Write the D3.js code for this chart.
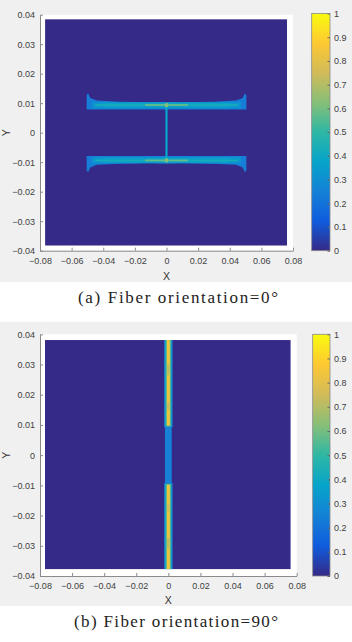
<!DOCTYPE html>
<html>
<head>
<meta charset="utf-8">
<script src="https://cdn.jsdelivr.net/npm/d3@7"></script>
<style>
body{margin:0;background:#fff}
text{font-family:"Liberation Sans",Arial,sans-serif}
</style>
</head>
<body>
<svg id="chart" width="352" height="642"></svg>
<script>
// parula colormap
const parulaDomain = [0, .125, .25, .375, .5, .625, .75, .875, 1]
const parulaColors = ["#352a87", "#0f5cdd", "#1481d6", "#06a4ca", "#2eb7a4", "#87bf77", "#d1bb59", "#fec832", "#f9fb0e"]

const xTicks = [-0.08, -0.06, -0.04, -0.02, 0, 0.02, 0.04, 0.06, 0.08]
const yTicks = [-0.04, -0.03, -0.02, -0.01, 0, 0.01, 0.02, 0.03, 0.04]
const cbTicks = [0, 0.1, 0.2, 0.3, 0.4, 0.5, 0.6, 0.7, 0.8, 0.9, 1]
const captions = ["(a)  Fiber orientation=0°", "(b)  Fiber orientation=90°"]

// field extents (x, y) of the pcolor region
const fieldA = [[-0.0768, 0.0763], [-0.0383, 0.0385]]
const fieldB = [[-0.0769, 0.0763], [-0.0378, 0.0381]]

// (a) 0 deg : flange outlines (polygons) and bands
const flangeTopA = [[-0.0505,0.0079],[0.0505,0.0079],[0.0505,0.0127],[0.0496,0.0134],[0.0482,0.0118],[0.044,0.0109],[0.03,0.0105],[0.01,0.0103],[0,0.0104],[-0.01,0.0103],[-0.03,0.0105],[-0.044,0.0109],[-0.0482,0.0118],[-0.0496,0.0134],[-0.0505,0.0127]]
const flangeBotA = [[-0.0505,-0.0079],[0.0505,-0.0079],[0.0505,-0.0127],[0.0496,-0.0134],[0.0482,-0.0118],[0.044,-0.0109],[0.03,-0.0105],[0.01,-0.0103],[0,-0.0104],[-0.01,-0.0103],[-0.03,-0.0105],[-0.044,-0.0109],[-0.0482,-0.0118],[-0.0496,-0.0134],[-0.0505,-0.0127]]
const polysA = [
	{v: 0.24, pts: flangeTopA},
	{v: 0.24, pts: flangeBotA}
]
const cellsA = [
	{x0:-0.047, x1:0.047, y0:0.0082, y1:0.0104, v:0.32},
	{x0:-0.047, x1:0.047, y0:-0.0104, y1:-0.0082, v:0.32},
	{x0:-0.040, x1:0.040, y0:0.0086, y1:0.0101, v:0.36},
	{x0:-0.040, x1:0.040, y0:-0.0101, y1:-0.0086, v:0.36},
	{x0:-0.045, x1:0.045, y0:0.0091, y1:0.0097, v:0.43},
	{x0:-0.045, x1:0.045, y0:-0.0097, y1:-0.0091, v:0.43},
	{x0:-0.0135, x1:0.0135, y0:0.0091, y1:0.0097, v:0.58},
	{x0:-0.0135, x1:0.0135, y0:-0.0097, y1:-0.0091, v:0.58},
	{x0:-0.0007, x1:0.0007, y0:-0.0088, y1:0.0088, v:0.38},
	{x0:-0.0010, x1:0.0010, y0:0.0087, y1:0.0100, v:0.62},
	{x0:-0.0010, x1:0.0010, y0:-0.0100, y1:-0.0087, v:0.62}
]

// (b) 90 deg : vertical strip along x = 0
const polysB = []
const cellsB = [
	{x0:-0.0026, x1:0.0026, y0:0.0092, y1:0.0381, v:0.3},
	{x0:-0.0026, x1:0.0026, y0:-0.0378, y1:-0.0092, v:0.3},
	{x0:-0.0021, x1:0.0021, y0:-0.0100, y1:0.0100, v:0.25},
	{x0:-0.0017, x1:0.0017, y0:0.0095, y1:0.0381, v:0.55},
	{x0:-0.0017, x1:0.0017, y0:-0.0378, y1:-0.0095, v:0.55},
	{x0:-0.0009, x1:0.0009, y0:0.0098, y1:0.0381, v:0.84},
	{x0:-0.0009, x1:0.0009, y0:-0.0378, y1:-0.0098, v:0.84},
	{x0:-0.0009, x1:0.0009, y0:0.0265, y1:0.0300, v:0.72},
	{x0:-0.0009, x1:0.0009, y0:0.0150, y1:0.0175, v:0.74},
	{x0:-0.0009, x1:0.0009, y0:-0.0310, y1:-0.0275, v:0.72},
	{x0:-0.0009, x1:0.0009, y0:-0.0185, y1:-0.0160, v:0.75}
]

var color = d3.scaleLinear().domain(parulaDomain).range(parulaColors).clamp(true)
var svg = d3.select("#chart")

var defs = svg.append("defs")
var grad = defs.append("linearGradient")
	.attr("id", "parula")
	.attr("x1", 0).attr("y1", 1).attr("x2", 0).attr("y2", 0)
grad.selectAll("stop")
	.data(parulaDomain)
	.enter().append("stop")
	.attr("offset", function(d){ return d })
	.attr("stop-color", function(d, i){ return parulaColors[i] })
defs.append("filter").attr("id", "soft")
	.append("feGaussianBlur").attr("stdDeviation", 0.7)

var panels = [
	{name:"a", bgTop:0, bgBottom:282, left:40, right:293, top:14.7, bottom:250.7,
	 cbLeft:311.7, cbRight:330, cbTop:13.5, cbBottom:250.7, xLabelY:280, captionY:303,
	 captionX:78, captionW:200, field:fieldA, polys:polysA, cells:cellsA, caption:captions[0]},
	{name:"b", bgTop:321.7, bgBottom:606, left:40, right:296.7, top:334.3, bottom:576,
	 cbLeft:312.7, cbRight:330, cbTop:334.3, cbBottom:576, xLabelY:603.5, captionY:627,
	 captionX:74, captionW:204, field:fieldB, polys:polysB, cells:cellsB, caption:captions[1]}
]

panels.forEach(function(p){
	drawPanel(p)
})

function drawPanel(p){
	var g = svg.append("g")

	g.append("rect")
		.attr("x", 0).attr("y", p.bgTop)
		.attr("width", 352).attr("height", p.bgBottom - p.bgTop)
		.attr("fill", "#f0f0f0")

	var x = d3.scaleLinear().domain([-0.08, 0.08]).range([p.left, p.right])
	var y = d3.scaleLinear().domain([-0.04, 0.04]).range([p.bottom, p.top])

	// axes background
	g.append("rect")
		.attr("x", p.left).attr("y", p.top)
		.attr("width", p.right - p.left).attr("height", p.bottom - p.top)
		.attr("fill", "#fff")

	var clipId = "clip" + p.name
	defs.append("clipPath").attr("id", clipId)
		.append("rect")
		.attr("x", x(p.field[0][0])).attr("y", y(p.field[1][1]))
		.attr("width", x(p.field[0][1]) - x(p.field[0][0]))
		.attr("height", y(p.field[1][0]) - y(p.field[1][1]))

	var field = g.append("g").attr("clip-path", "url(#" + clipId + ")")
	field.append("rect")
		.attr("x", x(p.field[0][0])).attr("y", y(p.field[1][1]))
		.attr("width", x(p.field[0][1]) - x(p.field[0][0]))
		.attr("height", y(p.field[1][0]) - y(p.field[1][1]))
		.attr("fill", color(0))

	var marks = field.append("g").attr("filter", "url(#soft)")
	var line = d3.line().x(function(d){ return x(d[0]) }).y(function(d){ return y(d[1]) })
	marks.selectAll("path")
		.data(p.polys)
		.enter().append("path")
		.attr("d", function(d){ return line(d.pts) + "Z" })
		.attr("fill", function(d){ return color(d.v) })
	marks.selectAll("rect")
		.data(p.cells)
		.enter().append("rect")
		.attr("x", function(d){ return x(d.x0) })
		.attr("y", function(d){ return y(d.y1) })
		.attr("width", function(d){ return x(d.x1) - x(d.x0) })
		.attr("height", function(d){ return y(d.y0) - y(d.y1) })
		.attr("fill", function(d){ return color(d.v) })

	// axes
	var xAxis = g.append("g")
		.attr("transform", "translate(0," + p.bottom + ")")
		.call(d3.axisBottom(x).tickValues(xTicks).tickSizeInner(-3).tickSizeOuter(0)
			.tickFormat(function(d){ return d3.format("")(+d.toFixed(2)) }))
	var yAxis = g.append("g")
		.attr("transform", "translate(" + p.left + ",0)")
		.call(d3.axisLeft(y).tickValues(yTicks).tickSizeInner(-3).tickSizeOuter(0)
			.tickFormat(function(d){ return d3.format("")(+d.toFixed(2)) }))
	;[xAxis, yAxis].forEach(function(a){
		a.select(".domain").attr("stroke", "#8a8a8a")
		a.selectAll(".tick line").attr("stroke", "#8a8a8a")
		a.selectAll(".tick text").attr("fill", "#404040").attr("font-size", 9)
			.attr("font-family", "Liberation Sans, Arial, sans-serif")
	})
	xAxis.selectAll(".tick text").attr("y", 7)
	yAxis.selectAll(".tick text").attr("x", -5)

	g.append("text")
		.attr("x", x(0)).attr("y", p.xLabelY)
		.attr("text-anchor", "middle")
		.attr("font-size", 10.5).attr("fill", "#333")
		.text("X")
	g.append("text")
		.attr("transform", "translate(10," + y(0) + ") rotate(-90)")
		.attr("text-anchor", "middle")
		.attr("font-size", 10.5).attr("fill", "#333")
		.text("Y")

	// colorbar
	var cb = d3.scaleLinear().domain([0, 1]).range([p.cbBottom, p.cbTop])
	g.append("rect")
		.attr("x", p.cbLeft).attr("y", p.cbTop)
		.attr("width", p.cbRight - p.cbLeft).attr("height", p.cbBottom - p.cbTop)
		.attr("fill", "url(#parula)")
		.attr("stroke", "#8a8a8a").attr("stroke-width", 0.8)
	var cbAxis = g.append("g")
		.attr("transform", "translate(" + p.cbRight + ",0)")
		.call(d3.axisRight(cb).tickValues(cbTicks).tickSizeInner(-2.5).tickSizeOuter(0)
			.tickFormat(function(d){ return d3.format("")(+d.toFixed(1)) }))
	cbAxis.select(".domain").remove()
	cbAxis.selectAll(".tick line").attr("stroke", "#666")
	cbAxis.selectAll(".tick text").attr("x", 4).attr("fill", "#404040").attr("font-size", 9)
		.attr("font-family", "Liberation Sans, Arial, sans-serif")

	// caption
	g.append("text")
		.attr("x", p.captionX).attr("y", p.captionY)
		.attr("textLength", p.captionW).attr("lengthAdjust", "spacing")
		.style("font-family", "'Liberation Serif', 'DejaVu Serif', serif")
		.attr("font-size", 17).attr("fill", "#222")
		.text(p.caption)
}
</script>
</body>
</html>
